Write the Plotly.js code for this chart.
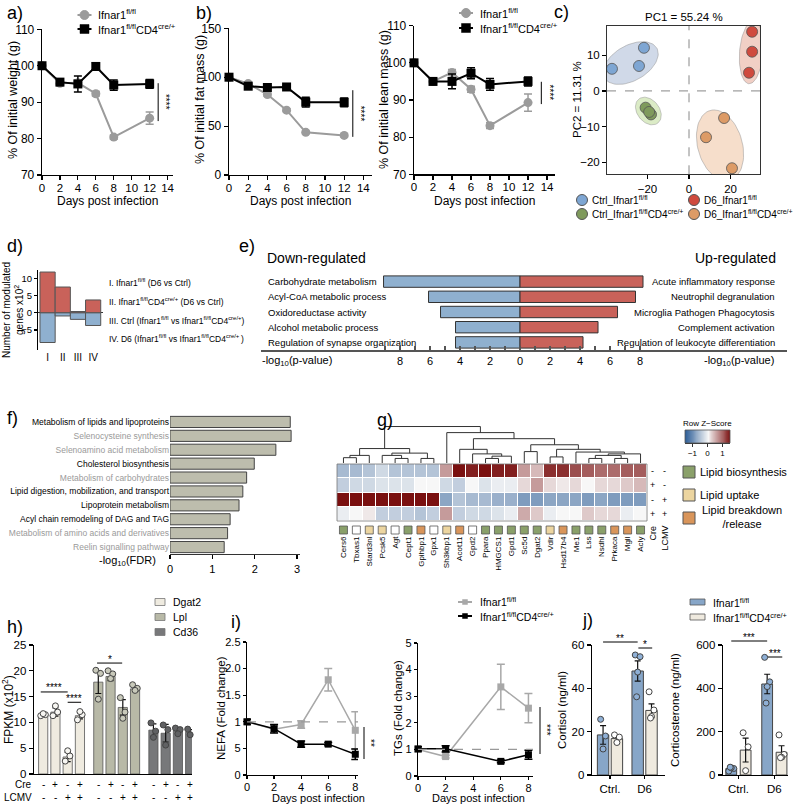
<!DOCTYPE html>
<html>
<head>
<meta charset="utf-8">
<script src="https://cdn.plot.ly/plotly-3.0.1.min.js"></script>
<style>html,body{margin:0;padding:0;background:#fff;}#chart{width:800px;height:806px;}</style>
</head>
<body>
<div id="chart"></div>
<script>
// ======================= DATA =======================
// a) body weight
const daysA = [0, 2, 4, 6, 8, 12];
const weightFl = [100, 95.2, 95.3, 92.3, 80.4, 85.6];
const weightFlErr = [0, 0.6, 0.8, 0.6, 0.6, 1.7];
const weightCre = [100, 95.5, 95.0, 99.8, 94.7, 95.0];
const weightCreErr = [0, 0.8, 2.2, 1.0, 1.4, 1.2];
// b) fat mass and lean mass
const fatFl = [100, 93.5, 82.3, 66.3, 43.6, 40.5];
const fatFlErr = [0, 1.5, 1.5, 1.5, 1.5, 1.5];
const fatCre = [100, 90.8, 89.5, 90.0, 74.5, 74.3];
const fatCreErr = [0, 2.0, 1.5, 1.5, 5.0, 4.5];
const leanFl = [100, 95.0, 97.4, 92.9, 83.1, 89.3];
const leanFlErr = [0, 0.6, 0.8, 0.8, 0.8, 2.3];
const leanCre = [100, 95.0, 95.0, 97.2, 94.2, 95.0];
const leanCreErr = [0, 0.8, 2.0, 1.5, 1.6, 1.2];
const seriesNames = ['Ifnar1<sup>fl/fl</sup>', 'Ifnar1<sup>fl/fl</sup>CD4<sup>cre/+</sup>'];
// c) PCA
const pcaNames = ['Ctrl_Ifnar1<sup>fl/fl</sup>', 'Ctrl_Ifnar1<sup>fl/fl</sup>CD4<sup>cre/+</sup>', 'D6_Ifnar1<sup>fl/fl</sup>', 'D6_Ifnar1<sup>fl/fl</sup>CD4<sup>cre/+</sup>'];
const pcaCtrlFlX = [-21.7, -24.1, -37.1], pcaCtrlFlY = [12.1, 7.0, 6.2];
const pcaCtrlCreX = [-20.9, -18.3, -19.2], pcaCtrlCreY = [-4.7, -6.6, -5.9];
const pcaD6FlX = [30.4, 30.4, 28.9], pcaD6FlY = [16.6, 11.0, 5.1];
const pcaD6CreX = [16.9, 8.2, 20.7], pcaD6CreY = [-7.6, -13.0, -21.7];
// d) modulated genes (x10^2)
const dCats = ['I', 'II', 'III', 'IV'];
const dUp = [12.0, 7.6, 0.4, 3.8];
const dDown = [-8.7, -0.9, -1.9, -3.7];
const dLegend = ['I. Ifnar1<sup>fl/fl</sup> (D6 vs Ctrl)',
  'II. Ifnar1<sup>fl/fl</sup>CD4<sup>cre/+</sup> (D6 vs Ctrl)',
  'III. Ctrl (Ifnar1<sup>fl/fl</sup> vs Ifnar1<sup>fl/fl</sup>CD4<sup>cre/+</sup>)',
  'IV. D6 (Ifnar1<sup>fl/fl</sup> vs Ifnar1<sup>fl/fl</sup>CD4<sup>cre/+ </sup>)'];
// e) enrichment -log10(p)
const eDownTerms = ['Carbohydrate metabolism', 'Acyl-CoA metabolic process', 'Oxidoreductase activity', 'Alcohol metabolic process', 'Regulation of synapse organization'];
const eDownVals = [9.1, 6.1, 5.3, 4.3, 4.3];
const eUpTerms = ['Acute inflammatory response', 'Neutrophil degranulation', 'Microglia Pathogen Phagocytosis', 'Complement activation', 'Regulation of leukocyte differentiation'];
const eUpVals = [8.2, 7.7, 6.5, 5.2, 4.2];
// f) pathways -log10(FDR)
const fTerms = ['Metabolism of lipids and lipoproteins', 'Selenocysteine synthesis', 'Selenoamino acid metabolism', 'Cholesterol biosynthesis', 'Metabolism of carbohydrates', 'Lipid digestion, mobilization, and transport', 'Lipoprotein metabolism', 'Acyl chain remodeling of DAG and TAG', 'Metabolism of amino acids and derivatives', 'Reelin signalling pathway'];
const fVals = [2.84, 2.86, 2.5, 1.99, 1.81, 1.72, 1.63, 1.42, 1.36, 1.28];
const fLipid = [true, false, false, true, false, true, true, true, false, false];
// g) heatmap
const gGenes = ['Cers6', 'Tbxas1', 'Stard3nl', 'Pcsk5', 'Agt', 'Cept1', 'Gpihbp1', 'Gpx1', 'Sh3kbp1', 'Acot11', 'Gpd2', 'Ppara', 'HMGCS1', 'Gpd1', 'Sc5d', 'Dgat2', 'Vdlr', 'Hsd17b4', 'Me1', 'Lss', 'Nsdhl', 'Prkaca', 'Mgll', 'Acly'];
const gCategory = ['bio', 'none', 'up', 'up', 'none', 'bio', 'brk', 'none', 'up', 'brk', 'none', 'bio', 'bio', 'bio', 'bio', 'bio', 'up', 'brk', 'bio', 'bio', 'bio', 'brk', 'brk', 'bio'];
const gRow1 = [-0.6, -0.6, -0.5, -0.3, -0.5, -0.5, -0.5, -0.5, 0.6, 1.5, 1.4, 1.5, 1.4, 1.4, 0.6, 0.4, 1.3, 1.3, 1.1, 1.0, 0.9, 0.9, 1.0, 1.0];
const gRow2 = [-0.4, -0.3, -0.3, -0.2, -0.2, -0.2, 0.0, 0.0, -0.3, -0.4, 0.0, -0.2, -0.1, -0.1, 0.2, 0.6, 0.2, 0.1, 0.2, 0.0, 0.2, 0.2, 0.3, 0.4];
const gRow3 = [1.5, 1.5, 1.5, 1.5, 1.5, 1.5, 1.5, 1.5, -0.8, -0.5, -0.6, -0.6, -0.7, -0.7, -0.9, -0.9, -0.8, -0.8, -0.8, -0.9, -0.8, -0.9, -0.9, -0.9];
const gRow4 = [-0.1, 0.0, 0.1, -0.4, -0.4, -0.4, -0.5, -0.4, 0.6, -0.4, -0.3, -0.3, -0.2, -0.1, 0.5, 0.3, -0.1, 0.0, 0.0, 0.3, 0.2, 0.2, -0.1, 0.0];
const gCre = ['-', '+', '-', '+'];
const gLcmv = ['-', '-', '+', '+'];
// dendrogram merges: [left, right, height]; numbers = leaf columns, 'mK' = earlier merge K
const gMerges = [
  [4, 5, 0.3], [6, 7, 0.3], [3, 'm0', 0.5], ['m2', 'm1', 0.65], [0, 1, 0.35], ['m4', 2, 0.5], ['m5', 'm3', 0.95],
  [11, 12, 0.3], ['m7', 13, 0.45], [10, 'm8', 0.6], [9, 'm9', 0.9], [14, 15, 0.75],
  [19, 20, 0.3], [21, 22, 0.3], ['m12', 'm13', 0.5], ['m14', 23, 0.6], [18, 'm15', 0.72], [16, 17, 0.4],
  ['m17', 'm16', 0.9], ['m11', 'm18', 1.2], ['m10', 'm19', 1.6], [8, 'm20', 2.0], ['m6', 'm21', 2.4]
];
const gKeyVals = [-1.5, -1.25, -1.0, -0.75, -0.5, -0.25, 0, 0.25, 0.5, 0.75, 1.0, 1.25, 1.5];
const gCatLabels = ['Lipid biosynthesis', 'Lipid uptake', 'Lipid breakdown<br>/release'];
// h) FPKM
const hGenes = ['Dgat2', 'Lpl', 'Cd36'];
const hCre = ['-', '+', '-', '+'];
const hLcmv = ['-', '-', '+', '+'];
const hDgat2 = [11.5, 12.0, 3.3, 11.3], hDgat2Err = [0.2, 0.8, 0.9, 0.6];
const hLpl = [17.8, 18.9, 12.9, 16.5], hLplErr = [2.2, 0.8, 1.5, 0.5];
const hCd36 = [8.5, 7.9, 8.4, 8.1], hCd36Err = [1.2, 1.7, 0.6, 0.5];
const hDgat2Pts = [[11.3, 11.5, 11.7], [11.3, 12.0, 13.2], [2.5, 3.5, 4.5], [10.5, 11.5, 12.1]];
const hLplPts = [[20.1, 19.5, 14.5], [20.0, 19.4, 18.5], [14.8, 12.0, 10.8], [17.3, 16.6, 16.2]];
const hCd36Pts = [[9.9, 8.3, 7.1], [9.5, 8.6, 5.6], [8.9, 8.6, 7.8], [8.7, 8.1, 7.6]];
// i) NEFA and TG
const iDays = [0, 2, 4, 6, 8];
const nefaFl = [1.0, 0.86, 0.95, 1.79, 0.84], nefaFlErr = [0.05, 0.06, 0.07, 0.21, 0.35];
const nefaCre = [1.0, 0.87, 0.58, 0.58, 0.39], nefaCreErr = [0.05, 0.08, 0.06, 0.03, 0.1];
const tgDays = [0, 2, 6, 8];
const tgFl = [1.0, 0.73, 3.35, 2.55], tgFlErr = [0.1, 0.05, 0.85, 0.55];
const tgCre = [1.02, 1.02, 0.55, 0.8], tgCreErr = [0.08, 0.12, 0.05, 0.17];
// j) hormones
const jGroups = ['Ctrl.', 'D6'];
const cortFl = [18.5, 48.0], cortFlErr = [4.3, 4.7];
const cortCre = [16.8, 29.8], cortCreErr = [1.5, 3.0];
const cortFlPts = [[25.7, 18.0, 12.0], [55.4, 54.6, 47.5, 36.1]];
const cortCrePts = [[18.5, 17.5, 15.0], [38.4, 30.0, 27.0, 26.3]];
const corticoFl = [30, 420], corticoFlErr = [5, 45];
const corticoCre = [115, 105], corticoCreErr = [55, 30];
const corticoFlPts = [[18, 30, 33, 36], [543, 430, 408, 332]];
const corticoCrePts = [[195, 130, 20], [185, 95, 82, 80]];

// ======================= HELPERS =======================
const W = 800, H = 806;
const FONT = 'Liberation Sans, Arial, Helvetica, sans-serif';
const fx = p => p / W, fy = p => 1 - p / H;
const traces = [];
const layout = {
  width: W, height: H, margin: {l: 0, r: 0, t: 0, b: 0, pad: 0},
  paper_bgcolor: '#ffffff', plot_bgcolor: 'rgba(0,0,0,0)', showlegend: false, barmode: 'overlay',
  font: {family: FONT, size: 11, color: '#000'}, shapes: [], annotations: []
};
const AX = {};
const baseAx = {showgrid: false, zeroline: false, showline: true, linecolor: '#000', linewidth: 1.3,
  ticks: 'outside', ticklen: 4, tickwidth: 1.2, tickcolor: '#000', tickfont: {size: 12, color: '#000'}, fixedrange: true};
function axes(n, box, xr, yr, xo, yo) {
  const s = n === 1 ? '' : String(n);
  AX[n] = {x0: box[0], x1: box[1], y0: box[2], y1: box[3], xr: xr, yr: yr};
  layout['xaxis' + s] = Object.assign({}, baseAx, {domain: [fx(box[0]), fx(box[1])], range: xr, anchor: 'y' + s}, xo || {});
  layout['yaxis' + s] = Object.assign({}, baseAx, {domain: [fy(box[3]), fy(box[2])], range: yr, anchor: 'x' + s}, yo || {});
  return {xaxis: 'x' + s, yaxis: 'y' + s};
}
const PX = (n, v) => { const a = AX[n]; return a.x0 + (v - a.xr[0]) / (a.xr[1] - a.xr[0]) * (a.x1 - a.x0); };
const PY = (n, v) => { const a = AX[n]; return a.y1 - (v - a.yr[0]) / (a.yr[1] - a.yr[0]) * (a.y1 - a.y0); };
function txt(x, y, t, size, o) {
  layout.annotations.push(Object.assign({xref: 'paper', yref: 'paper', x: fx(x), y: fy(y), text: t, showarrow: false,
    xanchor: 'left', yanchor: 'middle', borderpad: 0, font: {size: size, color: '#000'}}, o || {}));
}
function line(x0, y0, x1, y1, color, w, dash) {
  layout.shapes.push({type: 'line', xref: 'paper', yref: 'paper', x0: fx(x0), y0: fy(y0), x1: fx(x1), y1: fy(y1),
    line: {color: color || '#000', width: w || 1, dash: dash || 'solid'}});
}
function rect(x0, y0, x1, y1, fill, lc, w) {
  layout.shapes.push({type: 'rect', xref: 'paper', yref: 'paper', x0: fx(x0), y0: fy(y0), x1: fx(x1), y1: fy(y1),
    fillcolor: fill, line: {color: lc || '#444', width: w === undefined ? 1 : w}});
}
function circ(cx, cy, r, fill, lc) {
  layout.shapes.push({type: 'circle', xref: 'paper', yref: 'paper', x0: fx(cx - r), y0: fy(cy + r), x1: fx(cx + r), y1: fy(cy - r),
    fillcolor: fill, line: {color: lc || fill, width: 1}});
}
function legLine(x, y, color, sym, r) {
  line(x - 7, y, x + 7, y, color, 2);
  if (sym === 'circle') circ(x, y, r, color, color); else rect(x - r, y - r, x + r, y + r, color, color, 0.5);
}
function timeTrace(ax, xs, ys, errs, color, symbol, size, lw, name) {
  traces.push({type: 'scatter', mode: 'lines+markers', name: name, x: xs, y: ys, xaxis: ax.xaxis, yaxis: ax.yaxis,
    line: {color: color, width: lw}, marker: {symbol: symbol, size: size, color: color, line: {width: 0}},
    error_y: {type: 'data', array: errs, visible: true, color: color, thickness: 1.5, width: 4}, cliponaxis: false});
}
function sigV(n, xv, v1, v2, label, color) {
  const xs = PX(n, xv);
  line(xs, PY(n, v1), xs, PY(n, v2), color || '#000', 1);
  txt(xs + 8, (PY(n, v1) + PY(n, v2)) / 2, label, 10, {xanchor: 'center', textangle: 90});
}
function sigH(x0, x1, y, label) {
  line(x0, y, x1, y, '#000', 1);
  txt((x0 + x1) / 2, y - 4, label, 10, {xanchor: 'center'});
}
const GRAY = '#9b9b9b', BLACK = '#000';
const topX = {tickvals: [0, 2, 4, 6, 8, 10, 12, 14], tickfont: {size: 11.5}, ticklabelstandoff: -2};

// ======================= a) =======================
const A = axes(1, [42, 172.7, 29.3, 175], [0, 14.57], [70, 110], topX, {tickvals: [70, 80, 90, 100, 110]});
timeTrace(A, daysA, weightFl, weightFlErr, GRAY, 'circle', 9, 2, seriesNames[0]);
timeTrace(A, daysA, weightCre, weightCreErr, BLACK, 'square', 9, 2, seriesNames[1]);
sigV(1, 12.95, 95.2, 84.8, '****');
txt(107, 201, 'Days post infection', 12, {xanchor: 'center'});
txt(13, 100, '% Of initial weight (g)', 12.5, {xanchor: 'center', textangle: -90});
legLine(84.5, 15, GRAY, 'circle', 4.5); txt(97, 14, seriesNames[0], 11);
legLine(84.5, 29, BLACK, 'square', 4.5); txt(97, 29, seriesNames[1], 11);
txt(6, 13, 'a)', 18);

// ======================= b) =======================
const B = axes(2, [229, 372, 28.3, 175], [0, 14.9], [0, 150], topX, {tickvals: [0, 50, 100, 150]});
timeTrace(B, daysA, fatFl, fatFlErr, GRAY, 'circle', 9, 2, seriesNames[0]);
timeTrace(B, daysA, fatCre, fatCreErr, BLACK, 'square', 9, 2, seriesNames[1]);
sigV(2, 12.9, 86.7, 39, '****');
txt(300, 201, 'Days post infection', 12, {xanchor: 'center'});
txt(200, 100, '% Of initial fat mass (g)', 12.5, {xanchor: 'center', textangle: -90});
txt(195, 13, 'b)', 18);
const L = axes(3, [414, 555, 25.7, 174.3], [0, 14.84], [70, 110], topX, {tickvals: [70, 80, 90, 100, 110]});
timeTrace(L, daysA, leanFl, leanFlErr, GRAY, 'circle', 9, 2, seriesNames[0]);
timeTrace(L, daysA, leanCre, leanCreErr, BLACK, 'square', 9, 2, seriesNames[1]);
sigV(3, 13.4, 94.9, 88.9, '****');
txt(485, 201, 'Days post infection', 12, {xanchor: 'center'});
txt(384, 100, '% Of initial lean mass (g)', 12.5, {xanchor: 'center', textangle: -90});
legLine(466, 13, GRAY, 'circle', 4.5); txt(479, 13, seriesNames[0], 11);
legLine(466, 28, BLACK, 'square', 4.5); txt(479, 28, seriesNames[1], 11);

// ======================= c) PCA =======================
const Cx = axes(4, [607, 760, 25.7, 174.3], [-39.5, 34.2], [-23.4, 18.3],
  {mirror: true, linecolor: '#333', linewidth: 1, tickvals: [-20, 0, 20], tickfont: {size: 11.5}},
  {mirror: true, linecolor: '#333', linewidth: 1, tickvals: [-20, -10, 0, 10], tickfont: {size: 11.5}});
layout.shapes.push({type: 'line', xref: 'x4', yref: 'y4', x0: 0, x1: 0, y0: -23.4, y1: 18.3, line: {color: '#888', width: 1, dash: 'dash'}});
layout.shapes.push({type: 'line', xref: 'x4', yref: 'y4', x0: -39.5, x1: 34.2, y0: 0, y1: 0, line: {color: '#888', width: 1, dash: 'dash'}});
const sxC = (760 - 607) / (34.2 + 39.5), syC = (174.3 - 25.7) / (18.3 + 23.4);
function ellipse(xs, ys, sx, sy, pad) {
  const n = xs.length;
  const u = xs.map(v => v * sx), w = ys.map(v => v * sy);
  const mu = u.reduce((a, b) => a + b, 0) / n, mw = w.reduce((a, b) => a + b, 0) / n;
  let cuu = 0, cww = 0, cuw = 0;
  for (let i = 0; i < n; i++) { const du = u[i] - mu, dw = w[i] - mw; cuu += du * du; cww += dw * dw; cuw += du * dw; }
  const ang = 0.5 * Math.atan2(2 * cuw, cuu - cww);
  const ca = Math.cos(ang), sa = Math.sin(ang);
  const p = u.map((uu, i) => (uu - mu) * ca + (w[i] - mw) * sa);
  const q = u.map((uu, i) => -(uu - mu) * sa + (w[i] - mw) * ca);
  const pc = (Math.max(...p) + Math.min(...p)) / 2, qc = (Math.max(...q) + Math.min(...q)) / 2;
  const a = (Math.max(...p) - Math.min(...p)) / 2 + pad, b = (Math.max(...q) - Math.min(...q)) / 2 + pad;
  const cu = mu + pc * ca - qc * sa, cw = mw + pc * sa + qc * ca;
  const ex = [], ey = [];
  for (let k = 0; k <= 72; k++) {
    const t = k / 72 * 2 * Math.PI;
    ex.push((cu + a * Math.cos(t) * ca - b * Math.sin(t) * sa) / sx);
    ey.push((cw + a * Math.cos(t) * sa + b * Math.sin(t) * ca) / sy);
  }
  return {ex, ey};
}
const pcaSets = [
  {x: pcaCtrlFlX, y: pcaCtrlFlY, c: '#7ea6d3', f: 'rgba(150,170,205,0.45)'},
  {x: pcaCtrlCreX, y: pcaCtrlCreY, c: '#7f9a5c', f: 'rgba(195,222,160,0.6)'},
  {x: pcaD6FlX, y: pcaD6FlY, c: '#cf4a3e', f: 'rgba(228,160,140,0.5)'},
  {x: pcaD6CreX, y: pcaD6CreY, c: '#dd9b66', f: 'rgba(238,195,160,0.55)'}
];
pcaSets.forEach(s => {
  const e = ellipse(s.x, s.y, sxC, syC, 11);
  traces.push({type: 'scatter', mode: 'lines', x: e.ex, y: e.ey, fill: 'toself', fillcolor: s.f,
    line: {color: 'rgba(150,150,150,0.5)', width: 1}, xaxis: Cx.xaxis, yaxis: Cx.yaxis, hoverinfo: 'skip'});
});
pcaSets.forEach((s, i) => {
  traces.push({type: 'scatter', mode: 'markers', name: pcaNames[i], x: s.x, y: s.y, xaxis: Cx.xaxis, yaxis: Cx.yaxis,
    marker: {size: 11, color: s.c, line: {color: '#555', width: 0.8}}, cliponaxis: false});
});
txt(683.5, 17, 'PC1 = 55.24 %', 11.5, {xanchor: 'center'});
txt(577, 100, 'PC2 = 11.31 %', 11.5, {xanchor: 'center', textangle: -90});
txt(553, 12, 'c)', 18);
[[582, 200, 0], [582, 214, 1], [694, 200, 2], [694, 214, 3]].forEach(r => {
  circ(r[0], r[1], 5.5, pcaSets[r[2]].c, '#555');
  txt(r[0] + 9, r[1], pcaNames[r[2]], 10);
});

// ======================= d) =======================
const Dx = axes(5, [38, 103, 270, 350], [-0.63, 3.65], [-10.9, 12.6],
  {showline: false, ticks: '', tickvals: [0, 1, 2, 3], ticktext: dCats, tickfont: {size: 10}},
  {tickvals: [-5, 0, 5, 10], tickfont: {size: 9.5}, ticklen: 3, linewidth: 1, zeroline: true, zerolinecolor: '#333', zerolinewidth: 1});
traces.push({type: 'bar', x: [0, 1, 2, 3], y: dUp, width: 1, xaxis: Dx.xaxis, yaxis: Dx.yaxis, marker: {color: '#c9625a', line: {color: '#555', width: 1}}});
traces.push({type: 'bar', x: [0, 1, 2, 3], y: dDown, width: 1, xaxis: Dx.xaxis, yaxis: Dx.yaxis, marker: {color: '#8fb0cf', line: {color: '#555', width: 1}}});
txt(13, 310, 'Number of modulated<br>genes x10<sup>2</sup>', 10, {xanchor: 'center', textangle: -90});
[283, 301, 320, 338].forEach((y, i) => txt(108, y, dLegend[i], 8.5));
txt(6, 246, 'd)', 18);

// ======================= e) =======================
const eTicks = [], eTickText = [];
for (let v = -9; v <= 8; v++) { eTicks.push(v); eTickText.push(v % 2 === 0 ? String(Math.abs(v)) : ' '); }
const Ex = axes(6, [261, 787, 274, 350], [-17.27, 17.8], [4.5, -0.5],
  {linecolor: '#555', linewidth: 1.5, ticks: 'inside', ticklen: 4, tickcolor: '#555', tickvals: eTicks, ticktext: eTickText, tickfont: {size: 11}},
  {visible: false});
traces.push({type: 'bar', orientation: 'h', y: [0, 1, 2, 3, 4], x: eDownVals.map(v => -v), width: 0.75, xaxis: Ex.xaxis, yaxis: Ex.yaxis,
  marker: {color: '#8fb0cf', line: {color: '#333', width: 1}}});
traces.push({type: 'bar', orientation: 'h', y: [0, 1, 2, 3, 4], x: eUpVals, width: 0.75, xaxis: Ex.xaxis, yaxis: Ex.yaxis,
  marker: {color: '#c9625a', line: {color: '#333', width: 1}}});
eDownTerms.forEach((t, i) => layout.annotations.push({xref: 'paper', yref: 'y6', x: fx(266), y: i, text: t, showarrow: false, xanchor: 'left', yanchor: 'middle', font: {size: 9.5}}));
eUpTerms.forEach((t, i) => layout.annotations.push({xref: 'paper', yref: 'y6', x: fx(777), y: i, text: t, showarrow: false, xanchor: 'right', yanchor: 'middle', font: {size: 9.5}}));
txt(266, 258, 'Down-regulated', 14);
txt(777, 258, 'Up-regulated', 14, {xanchor: 'right'});
txt(261, 361, '-log<sub>10</sub>(p-value)', 11);
txt(775, 361, '-log<sub>10</sub>(p-value)', 11, {xanchor: 'right'});
txt(238, 246, 'e)', 18);

// ======================= f) =======================
const Fx = axes(7, [170, 300, 415, 554], [0, 3.07], [9.5, -0.5],
  {tickvals: [0, 1, 2, 3], tickfont: {size: 11}, linecolor: '#333'},
  {showline: false, ticks: '', tickvals: fTerms.map((t, i) => i),
   ticktext: fTerms.map((t, i) => '<span style="color:' + (fLipid[i] ? '#000' : '#9a9a9a') + '">' + t + '</span>'), tickfont: {size: 8.5}});
traces.push({type: 'bar', orientation: 'h', y: fTerms.map((t, i) => i), x: fVals, width: 0.8, xaxis: Fx.xaxis, yaxis: Fx.yaxis,
  marker: {color: '#bdbdad', line: {color: '#444', width: 1}}});
txt(157, 561, '-log<sub>10</sub>(FDR)', 11, {xanchor: 'right'});
txt(6, 418, 'f)', 18);

// ======================= g) heatmap =======================
const Gx = axes(8, [337, 647, 464, 521], [-0.5, 23.5], [3.5, -0.5], {visible: false}, {visible: false});
const gScale = [[0, '#2f5f98'], [0.5, '#f7f7f7'], [1, '#7a1010']];
traces.push({type: 'heatmap', z: [gRow1, gRow2, gRow3, gRow4], x: gGenes.map((g, i) => i), y: [0, 1, 2, 3],
  zmin: -1.5, zmax: 1.5, colorscale: gScale, showscale: false, xgap: 1, ygap: 1, xaxis: Gx.xaxis, yaxis: Gx.yaxis});
rect(337, 464, 647, 521, 'rgba(0,0,0,0)', '#777', 0.8);
const catColor = {bio: '#8aa06a', up: '#ecd5a0', brk: '#d9955a', none: '#ffffff'};
const Gs = axes(9, [337, 647, 526, 534], [-0.5, 23.5], [-1, 1],
  {showline: false, ticks: '', tickvals: gGenes.map((g, i) => i), ticktext: gGenes, tickangle: -90, tickfont: {size: 8}},
  {visible: false});
traces.push({type: 'scatter', mode: 'markers', x: gGenes.map((g, i) => i), y: gGenes.map(() => 0), xaxis: Gs.xaxis, yaxis: Gs.yaxis,
  marker: {symbol: 'square', size: 8, color: gCategory.map(c => catColor[c]), line: {color: '#555', width: 0.8}}, cliponaxis: false});
// dendrogram
const Gd = axes(10, [337, 647, 425, 463], [-0.5, 23.5], [0, 2.5], {visible: false}, {visible: false});
const nodeX = [], nodeH = [], dx = [], dy = [];
const getNode = c => (typeof c === 'number') ? {x: c, h: 0} : {x: nodeX[+c.slice(1)], h: nodeH[+c.slice(1)]};
gMerges.forEach(m => {
  const l = getNode(m[0]), r = getNode(m[1]);
  dx.push(l.x, l.x, r.x, r.x, null); dy.push(l.h, m[2], m[2], r.h, null);
  nodeX.push((l.x + r.x) / 2); nodeH.push(m[2]);
});
traces.push({type: 'scatter', mode: 'lines', x: dx, y: dy, xaxis: Gd.xaxis, yaxis: Gd.yaxis, line: {color: '#333', width: 1}, hoverinfo: 'skip'});
// color key
const Gk = axes(11, [685, 730, 430, 443], [-1.5, 1.5], [-0.5, 0.5],
  {tickvals: [-1, 0, 1], tickfont: {size: 8}, ticklen: 3, linewidth: 0.8, tickwidth: 0.8}, {visible: false});
traces.push({type: 'heatmap', z: [gKeyVals], x: gKeyVals, y: [0], zmin: -1.5, zmax: 1.5, colorscale: gScale, showscale: false, zsmooth: 'best', xaxis: Gk.xaxis, yaxis: Gk.yaxis});
rect(685, 430, 730, 443, 'rgba(0,0,0,0)', '#555', 0.8);
txt(707.5, 423, 'Row Z\u2212Score', 8, {xanchor: 'center'});
// Cre / LCMV marks
gCre.forEach((s, i) => layout.annotations.push({xref: 'paper', yref: 'y8', x: fx(652), y: i, text: s, showarrow: false, xanchor: 'center', yanchor: 'middle', font: {size: 9}}));
gLcmv.forEach((s, i) => layout.annotations.push({xref: 'paper', yref: 'y8', x: fx(664), y: i, text: s, showarrow: false, xanchor: 'center', yanchor: 'middle', font: {size: 9}}));
txt(652, 525, 'Cre', 9, {xanchor: 'center', yanchor: 'top', textangle: -90});
txt(664, 525, 'LCMV', 9, {xanchor: 'center', yanchor: 'top', textangle: -90});
// category legend
[['bio', 472], ['up', 495], ['brk', 518]].forEach((r, i) => {
  rect(683, r[1] - 6, 695, r[1] + 6, catColor[r[0]], '#555', 1);
  txt(i === 2 ? 701 : 699, i === 2 ? 517 : r[1], gCatLabels[i], 11);
});
txt(376, 420, 'g)', 18);

// ======================= h) =======================
const Hx = axes(12, [34, 192, 645, 774], [-0.75, 12.15], [0, 25],
  {ticks: '', showticklabels: false}, {tickvals: [0, 5, 10, 15, 20, 25], tickfont: {size: 11.5}});
const hSets = [
  {v: hDgat2, e: hDgat2Err, p: hDgat2Pts, c: '#efebe0', dc: '#f7f6f2'},
  {v: hLpl, e: hLplErr, p: hLplPts, c: '#b8b9a7', dc: '#c8c9ba'},
  {v: hCd36, e: hCd36Err, p: hCd36Pts, c: '#77787a', dc: '#606163'}
];
const hJit = [-0.2, 0.18, 0.0];
const hPos = (g, k) => g * 4.5 + k;
hSets.forEach((s, g) => {
  const xs = s.v.map((v, k) => hPos(g, k));
  traces.push({type: 'bar', x: xs, y: s.v, width: 0.75, xaxis: Hx.xaxis, yaxis: Hx.yaxis, name: hGenes[g],
    marker: {color: s.c, line: {color: '#555', width: 0.8}},
    error_y: {type: 'data', array: s.e, color: '#111', thickness: 1.2, width: 3}});
  const px = [], py = [];
  s.p.forEach((pts, k) => pts.forEach((v, j) => { px.push(hPos(g, k) + hJit[j]); py.push(v); }));
  traces.push({type: 'scatter', mode: 'markers', x: px, y: py, xaxis: Hx.xaxis, yaxis: Hx.yaxis,
    marker: {size: 6, color: s.dc, line: {color: '#444', width: 1}}, cliponaxis: false});
});
hSets.forEach((s, g) => {
  const y = 602 + g * 15;
  rect(155, y - 3.5, 165, y + 3.5, s.c, '#777', 0.8);
  txt(172, y, hGenes[g], 10.5);
});
for (let g = 0; g < 3; g++) for (let k = 0; k < 4; k++) {
  layout.annotations.push({xref: 'x12', yref: 'paper', x: hPos(g, k), y: fy(784), text: hCre[k], showarrow: false, xanchor: 'center', yanchor: 'middle', borderpad: 0, font: {size: 10}});
  layout.annotations.push({xref: 'x12', yref: 'paper', x: hPos(g, k), y: fy(797), text: hLcmv[k], showarrow: false, xanchor: 'center', yanchor: 'middle', borderpad: 0, font: {size: 10}});
}
txt(33, 784, 'Cre', 10, {xanchor: 'right'});
txt(33, 797, 'LCMV', 10, {xanchor: 'right'});
sigH(PX(12, -0.2), PX(12, 2.0), PY(12, 15.9), '****');
sigH(PX(12, 2.0), PX(12, 3.1), PY(12, 13.9), '****');
sigH(PX(12, 4.4), PX(12, 6.45), PY(12, 21.5), '*');
txt(8, 710, 'FPKM (x10<sup>2</sup>)', 12, {xanchor: 'center', textangle: -90});
txt(6, 627, 'h)', 18);

// ======================= i) =======================
const IG = '#a8a8a8';
const N = axes(13, [247, 358, 642, 775], [0, 8.2], [0, 2.5],
  {tickvals: [0, 2, 4, 6, 8], tickfont: {size: 11}, ticklen: 3, ticklabelstandoff: -2},
  {tickvals: [0, 0.5, 1, 1.5, 2, 2.5], ticktext: ['0', '5', '1', '1.5', '2.0', '2.5'], tickfont: {size: 11}, ticklen: 3});
layout.shapes.push({type: 'line', xref: 'x13', yref: 'y13', x0: 0, x1: 8.2, y0: 1, y1: 1, line: {color: '#999', width: 1.2, dash: 'dash'}});
timeTrace(N, iDays, nefaFl, nefaFlErr, IG, 'square', 7, 1.5, seriesNames[0]);
timeTrace(N, iDays, nefaCre, nefaCreErr, BLACK, 'square', 7, 1.5, seriesNames[1]);
line(364, 727, 364, 759, '#000', 1);
txt(371, 743, '**', 10, {xanchor: 'center', textangle: 90});
txt(318, 798, 'Days post infection', 11, {xanchor: 'center'});
txt(221, 708, 'NEFA (Fold change)', 11.5, {xanchor: 'center', textangle: -90});
const T = axes(14, [418, 533, 643, 776], [0, 8.33], [0, 5],
  {tickvals: [0, 2, 4, 6, 8], tickfont: {size: 11}, ticklen: 3, ticklabelstandoff: -2}, {tickvals: [0, 1, 2, 3, 4, 5], tickfont: {size: 11}, ticklen: 3});
layout.shapes.push({type: 'line', xref: 'x14', yref: 'y14', x0: 0, x1: 8.33, y0: 1, y1: 1, line: {color: '#999', width: 1.2, dash: 'dash'}});
timeTrace(T, tgDays, tgFl, tgFlErr, IG, 'square', 7, 1.5, seriesNames[0]);
timeTrace(T, tgDays, tgCre, tgCreErr, BLACK, 'square', 7, 1.5, seriesNames[1]);
line(540, 707, 540, 754, '#000', 1);
txt(547, 730, '***', 10, {xanchor: 'center', textangle: 90});
txt(478, 798, 'Days post infection', 11, {xanchor: 'center'});
txt(398, 708, 'TGs (Fold change)', 11.5, {xanchor: 'center', textangle: -90});
legLine(465, 602, IG, 'square', 2.5); txt(479, 601, seriesNames[0], 10.5);
legLine(465, 616, BLACK, 'square', 2.5); txt(479, 616, seriesNames[1], 10.5);
txt(230, 622, 'i)', 18);

// ======================= j) =======================
const JB = '#87a6c8', JC = '#efeadf';
const jOff = 0.2, jJit = [-0.07, 0.07, 0.0, -0.03];
function jPanel(n, fl, flE, cre, creE, flPts, crePts, ymax, ticks, width) {
  const ax = axes(n, n === 15 ? [592, 665, 645, 775] : [723, 788, 645, 775], n === 15 ? [-0.52, 1.59] : [-0.43, 1.38], [0, ymax],
    {tickvals: [0, 1], ticktext: jGroups, tickfont: {size: 11.5}, ticklen: 3}, {tickvals: ticks, tickfont: {size: 11.5}});
  [[fl, flE, flPts, JB, -jOff, '#8fb0d6'], [cre, creE, crePts, JC, jOff, '#ffffff']].forEach(s => {
    traces.push({type: 'bar', x: jGroups.map((g, i) => i + s[4]), y: s[0], width: width, xaxis: ax.xaxis, yaxis: ax.yaxis,
      marker: {color: s[3], line: {color: '#444', width: 1}},
      error_y: {type: 'data', array: s[1], color: '#111', thickness: 1.2, width: 3}});
    const px = [], py = [];
    s[2].forEach((pts, i) => pts.forEach((v, j) => { px.push(i + s[4] + jJit[j]); py.push(v); }));
    traces.push({type: 'scatter', mode: 'markers', x: px, y: py, xaxis: ax.xaxis, yaxis: ax.yaxis,
      marker: {size: 6, color: s[5], line: {color: '#444', width: 1}}, cliponaxis: false});
  });
  return ax;
}
jPanel(15, cortFl, cortFlErr, cortCre, cortCreErr, cortFlPts, cortCrePts, 60, [0, 20, 40, 60], 0.33);
jPanel(16, corticoFl, corticoFlErr, corticoCre, corticoCreErr, corticoFlPts, corticoCrePts, 600, [0, 200, 400, 600], 0.3);
sigH(PX(15, -0.2), PX(15, 0.8), 642, '**');
sigH(PX(15, 0.82), PX(15, 1.22), 648, '*');
sigH(PX(16, -0.2), PX(16, 0.8), 641, '***');
sigH(PX(16, 0.82), PX(16, 1.22), 657, '***');
txt(562, 710, 'Cortisol (ng/ml)', 11.5, {xanchor: 'center', textangle: -90});
txt(675, 710, 'Corticosterone (ng/ml)', 11.5, {xanchor: 'center', textangle: -90});
rect(690, 599, 705, 605, JB, '#555', 0.8); txt(712, 602, seriesNames[0], 10.5);
rect(690, 614, 705, 620, JC, '#555', 0.8); txt(712, 617, seriesNames[1], 10.5);
txt(581, 620, 'j)', 18);

Plotly.newPlot('chart', traces, layout, {staticPlot: true, displayModeBar: false});
</script>
</body>
</html>
